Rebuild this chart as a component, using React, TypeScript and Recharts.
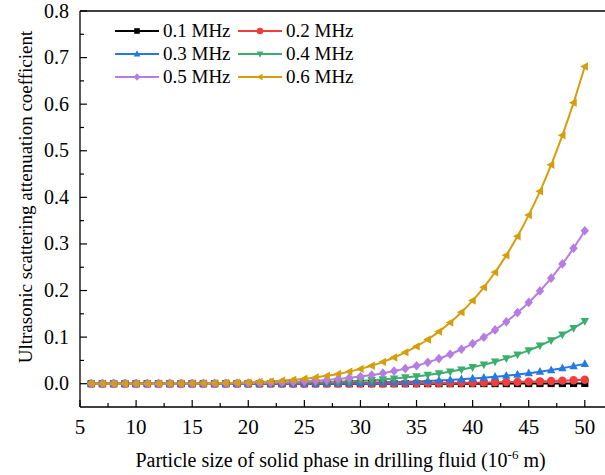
import React from 'react';
import { LineChart, Line, XAxis, YAxis, Legend, ReferenceLine } from 'recharts';

const FONT = 'Liberation Serif';

// particle size (10^-6 m)
const particleSize = [
  6, 7, 8, 9, 10, 11, 12, 13, 14, 15, 16, 17, 18, 19, 20, 21, 22, 23, 24, 25, 26, 27, 28,
  29, 30, 31, 32, 33, 34, 35, 36, 37, 38, 39, 40, 41, 42, 43, 44, 45, 46, 47, 48, 49, 50,
];

const mhz01 = [
  0, 0, 0, 0, 0, 0, 0, 0, 0, 0, 0, 0, 0, 0, 0, 0, 0, 0, 0, 0, 0, 0, 0, 0,
  0.00002, 0.00003, 0.00004, 0.00004, 0.00005, 0.00006,
  0.00007, 0.00009, 0.0001, 0.00012, 0.00014,
  0.00016, 0.00018, 0.00021, 0.00024, 0.00028,
  0.00032, 0.00036, 0.00041, 0.00047, 0.00053,
];

const mhz02 = [
  0, 0, 0, 0, 0, 0, 0, 0, 0, 0,
  0, 0, 0, 0, 0,
  0, 0.0001, 0.0001, 0.0001, 0.0001,
  0.0002, 0.0002, 0.0003, 0.0003, 0.0004,
  0.0005, 0.0006, 0.0007, 0.0008, 0.001,
  0.0012, 0.0014, 0.0016, 0.0019, 0.0022,
  0.0026, 0.003, 0.0034, 0.0039, 0.0045,
  0.0051, 0.0058, 0.0066, 0.0075, 0.0084,
];

const mhz03 = [
  0, 0, 0, 0, 0,
  0, 0, 0, 0, 0,
  0.0001, 0.0001, 0.0001, 0.0001, 0.0002,
  0.0002, 0.0003, 0.0004, 0.0005, 0.0007,
  0.0008, 0.0011, 0.0013, 0.0016, 0.002,
  0.0024, 0.0029, 0.0035, 0.0042, 0.005,
  0.0059, 0.007, 0.0082, 0.0096, 0.0112,
  0.0129, 0.015, 0.0172, 0.0198, 0.0226,
  0.0258, 0.0294, 0.0333, 0.0377, 0.0426,
];

const mhz04 = [
  0, 0, 0, 0, 0,
  0, 0, 0, 0.0001, 0.0001,
  0.0001, 0.0002, 0.0003, 0.0004, 0.0006,
  0.0007, 0.001, 0.0013, 0.0016, 0.0021,
  0.0027, 0.0033, 0.0041, 0.0051, 0.0063,
  0.0076, 0.0092, 0.0111, 0.0133, 0.0158,
  0.0187, 0.0221, 0.0259, 0.0303, 0.0353,
  0.0409, 0.0472, 0.0544, 0.0625, 0.0715,
  0.0815, 0.0928, 0.1053, 0.1192, 0.1345,
];

const mhz05 = [
  0, 0, 0, 0, 0,
  0, 0.0001, 0.0001, 0.0002, 0.0002,
  0.0004, 0.0005, 0.0007, 0.001, 0.0013,
  0.0018, 0.0024, 0.0031, 0.004, 0.0051,
  0.0065, 0.0081, 0.0101, 0.0125, 0.0153,
  0.0187, 0.0226, 0.0271, 0.0325, 0.0386,
  0.0458, 0.0539, 0.0633, 0.074, 0.0861,
  0.0998, 0.1154, 0.1329, 0.1526, 0.1745,
  0.1991, 0.2266, 0.2571, 0.291, 0.3284,
];

const mhz06 = [
  0, 0, 0, 0, 0,
  0.0001, 0.0001, 0.0002, 0.0003, 0.0005,
  0.0007, 0.0011, 0.0015, 0.0021, 0.0028,
  0.0037, 0.0049, 0.0065, 0.0083, 0.0106,
  0.0135, 0.0169, 0.021, 0.0259, 0.0318,
  0.0387, 0.0468, 0.0563, 0.0673, 0.0801,
  0.0949, 0.1118, 0.1312, 0.1534, 0.1785,
  0.207, 0.2392, 0.2755, 0.3163, 0.3619,
  0.4129, 0.4698, 0.5331, 0.6033, 0.681,
];

const xTicks = [5, 7.5, 10, 12.5, 15, 17.5, 20, 22.5, 25, 27.5, 30, 32.5, 35, 37.5, 40, 42.5, 45, 47.5, 50];
const yTicks = [0, 0.05, 0.1, 0.15, 0.2, 0.25, 0.3, 0.35, 0.4, 0.45, 0.5, 0.55, 0.6, 0.65, 0.7, 0.75, 0.8];

type Shape = 'square' | 'circle' | 'up' | 'down' | 'diamond' | 'left';

const series: { key: string; name: string; color: string; shape: Shape; values: number[] }[] = [
  { key: 'f1', name: '0.1 MHz', color: '#000000', shape: 'square', values: mhz01 },
  { key: 'f2', name: '0.2 MHz', color: '#F03E3E', shape: 'circle', values: mhz02 },
  { key: 'f3', name: '0.3 MHz', color: '#2479E2', shape: 'up', values: mhz03 },
  { key: 'f4', name: '0.4 MHz', color: '#3BAE6C', shape: 'down', values: mhz04 },
  { key: 'f5', name: '0.5 MHz', color: '#B57DE4', shape: 'diamond', values: mhz05 },
  { key: 'f6', name: '0.6 MHz', color: '#D59E0D', shape: 'left', values: mhz06 },
];

const data = particleSize.map((x, i) => {
  const row: Record<string, number> = { x };
  series.forEach(s => { row[s.key] = s.values[i]; });
  return row;
});

function marker(shape: Shape, cx: number, cy: number, r: number, color: string, key?: string | number) {
  switch (shape) {
    case 'square':
      return <rect key={key} x={cx - r * 0.85} y={cy - r * 0.85} width={r * 1.7} height={r * 1.7} fill={color} />;
    case 'circle':
      return <circle key={key} cx={cx} cy={cy} r={r} fill={color} />;
    case 'up':
      return <path key={key} d={`M${cx},${cy - r * 1.1}L${cx + r},${cy + r * 0.75}L${cx - r},${cy + r * 0.75}Z`} fill={color} />;
    case 'down':
      return <path key={key} d={`M${cx},${cy + r * 1.1}L${cx + r},${cy - r * 0.75}L${cx - r},${cy - r * 0.75}Z`} fill={color} />;
    case 'diamond':
      return <path key={key} d={`M${cx},${cy - r * 1.15}L${cx + r},${cy}L${cx},${cy + r * 1.15}L${cx - r},${cy}Z`} fill={color} />;
    default:
      return <path key={key} d={`M${cx - r * 1.1},${cy}L${cx + r * 0.75},${cy - r}L${cx + r * 0.75},${cy + r}Z`} fill={color} />;
  }
}

const makeDot = (shape: Shape, color: string) => (props: any) => {
  const { cx, cy, index } = props;
  if (cx == null || cy == null) return <g key={`d-${index}`} />;
  return marker(shape, cx, cy, 4.2, color, `d-${index}`);
};

const XTick = (props: any) => {
  const { x, y, payload } = props;
  const major = payload.value % 5 === 0;
  return (
    <g>
      <line x1={x} x2={x} y1={y} y2={y - (major ? 7 : 4)} stroke="#000" strokeWidth={1.2} />
      {major && (
        <text x={x} y={y + 27} textAnchor="middle" style={{ fontFamily: FONT, fontSize: 21 }} fill="#000">
          {payload.value}
        </text>
      )}
    </g>
  );
};

const YTick = (props: any) => {
  const { x, y, payload } = props;
  const major = Math.round(payload.value * 100) % 10 === 0;
  return (
    <g>
      <line x1={x} x2={x + (major ? 7 : 4)} y1={y} y2={y} stroke="#000" strokeWidth={1.2} />
      {major && (
        <text x={x - 11} y={y + 6.5} textAnchor="end" style={{ fontFamily: FONT, fontSize: 20 }} fill="#000">
          {payload.value.toFixed(1)}
        </text>
      )}
    </g>
  );
};

const LegendBox = () => (
  <div style={{ position: 'relative', width: 250, height: 70, fontFamily: FONT, fontSize: 19, color: '#000' }}>
    {series.map((s, i) => {
      const col = i % 2;
      const row = Math.floor(i / 2);
      return (
        <div key={s.key} style={{ position: 'absolute', left: col * 123, top: row * 23, height: 22, display: 'flex', alignItems: 'center', whiteSpace: 'nowrap' }}>
          <svg width={46} height={22} style={{ display: 'block' }}>
            <line x1={0} x2={44} y1={11} y2={11} stroke={s.color} strokeWidth={2} />
            {marker(s.shape, 22, 11, 3.3, s.color)}
          </svg>
          <span style={{ marginLeft: 2, lineHeight: '22px', fontFamily: FONT }}>{s.name}</span>
        </div>
      );
    })}
  </div>
);

export default function App() {
  return (
    <div style={{ position: 'absolute', left: 0, top: 0, background: '#fff', fontFamily: FONT }}>
      <LineChart width={605} height={475} data={data} margin={{ top: 11, right: 0, bottom: 0, left: 0 }} style={{ fontFamily: FONT }}>
        <XAxis
          dataKey="x"
          type="number"
          domain={[5, 51.8]}
          ticks={xTicks}
          interval={0}
          allowDataOverflow
          height={68}
          tickSize={0}
          tickMargin={0}
          tickLine={false}
          tick={XTick}
          axisLine={{ stroke: '#000', strokeWidth: 1.3 }}
          label={(p: any) => {
            const vb = p.viewBox;
            return (
              <text x={vb.x + vb.width / 2 - 2} y={vb.y + 60} textAnchor="middle" style={{ fontFamily: FONT, fontSize: 20 }} fill="#000">
                Particle size of solid phase in drilling fluid (10
                <tspan dy={-8} style={{ fontSize: 13 }}>-6</tspan>
                <tspan dy={8}> m)</tspan>
              </text>
            );
          }}
        />
        <YAxis
          type="number"
          domain={[-0.05, 0.8]}
          ticks={yTicks}
          interval={0}
          allowDataOverflow
          width={80}
          tickSize={0}
          tickMargin={0}
          tickLine={false}
          tick={YTick}
          axisLine={{ stroke: '#000', strokeWidth: 1.3 }}
          label={(p: any) => {
            const vb = p.viewBox;
            const cx = 28;
            const cy = vb.y + vb.height / 2 - 12;
            return (
              <text x={cx} y={cy} transform={`rotate(-90 ${cx} ${cy})`} textAnchor="middle" dominantBaseline="middle" style={{ fontFamily: FONT, fontSize: 19 }} fill="#000">
                Ultrasonic scattering attenuation coefficient
              </text>
            );
          }}
        />
        <ReferenceLine y={0.8} stroke="#000" strokeWidth={1.3} ifOverflow="visible" />
        <Legend
          content={LegendBox}
          layout="vertical"
          verticalAlign="middle"
          align="center"
          wrapperStyle={{ position: 'absolute', left: 115, top: 20, width: 260 }}
        />
        {series.map(s => (
          <Line
            key={s.key}
            dataKey={s.key}
            name={s.name}
            type="monotone"
            stroke={s.color}
            strokeWidth={2}
            dot={makeDot(s.shape, s.color)}
            activeDot={false}
            isAnimationActive={false}
          />
        ))}
      </LineChart>
    </div>
  );
}
